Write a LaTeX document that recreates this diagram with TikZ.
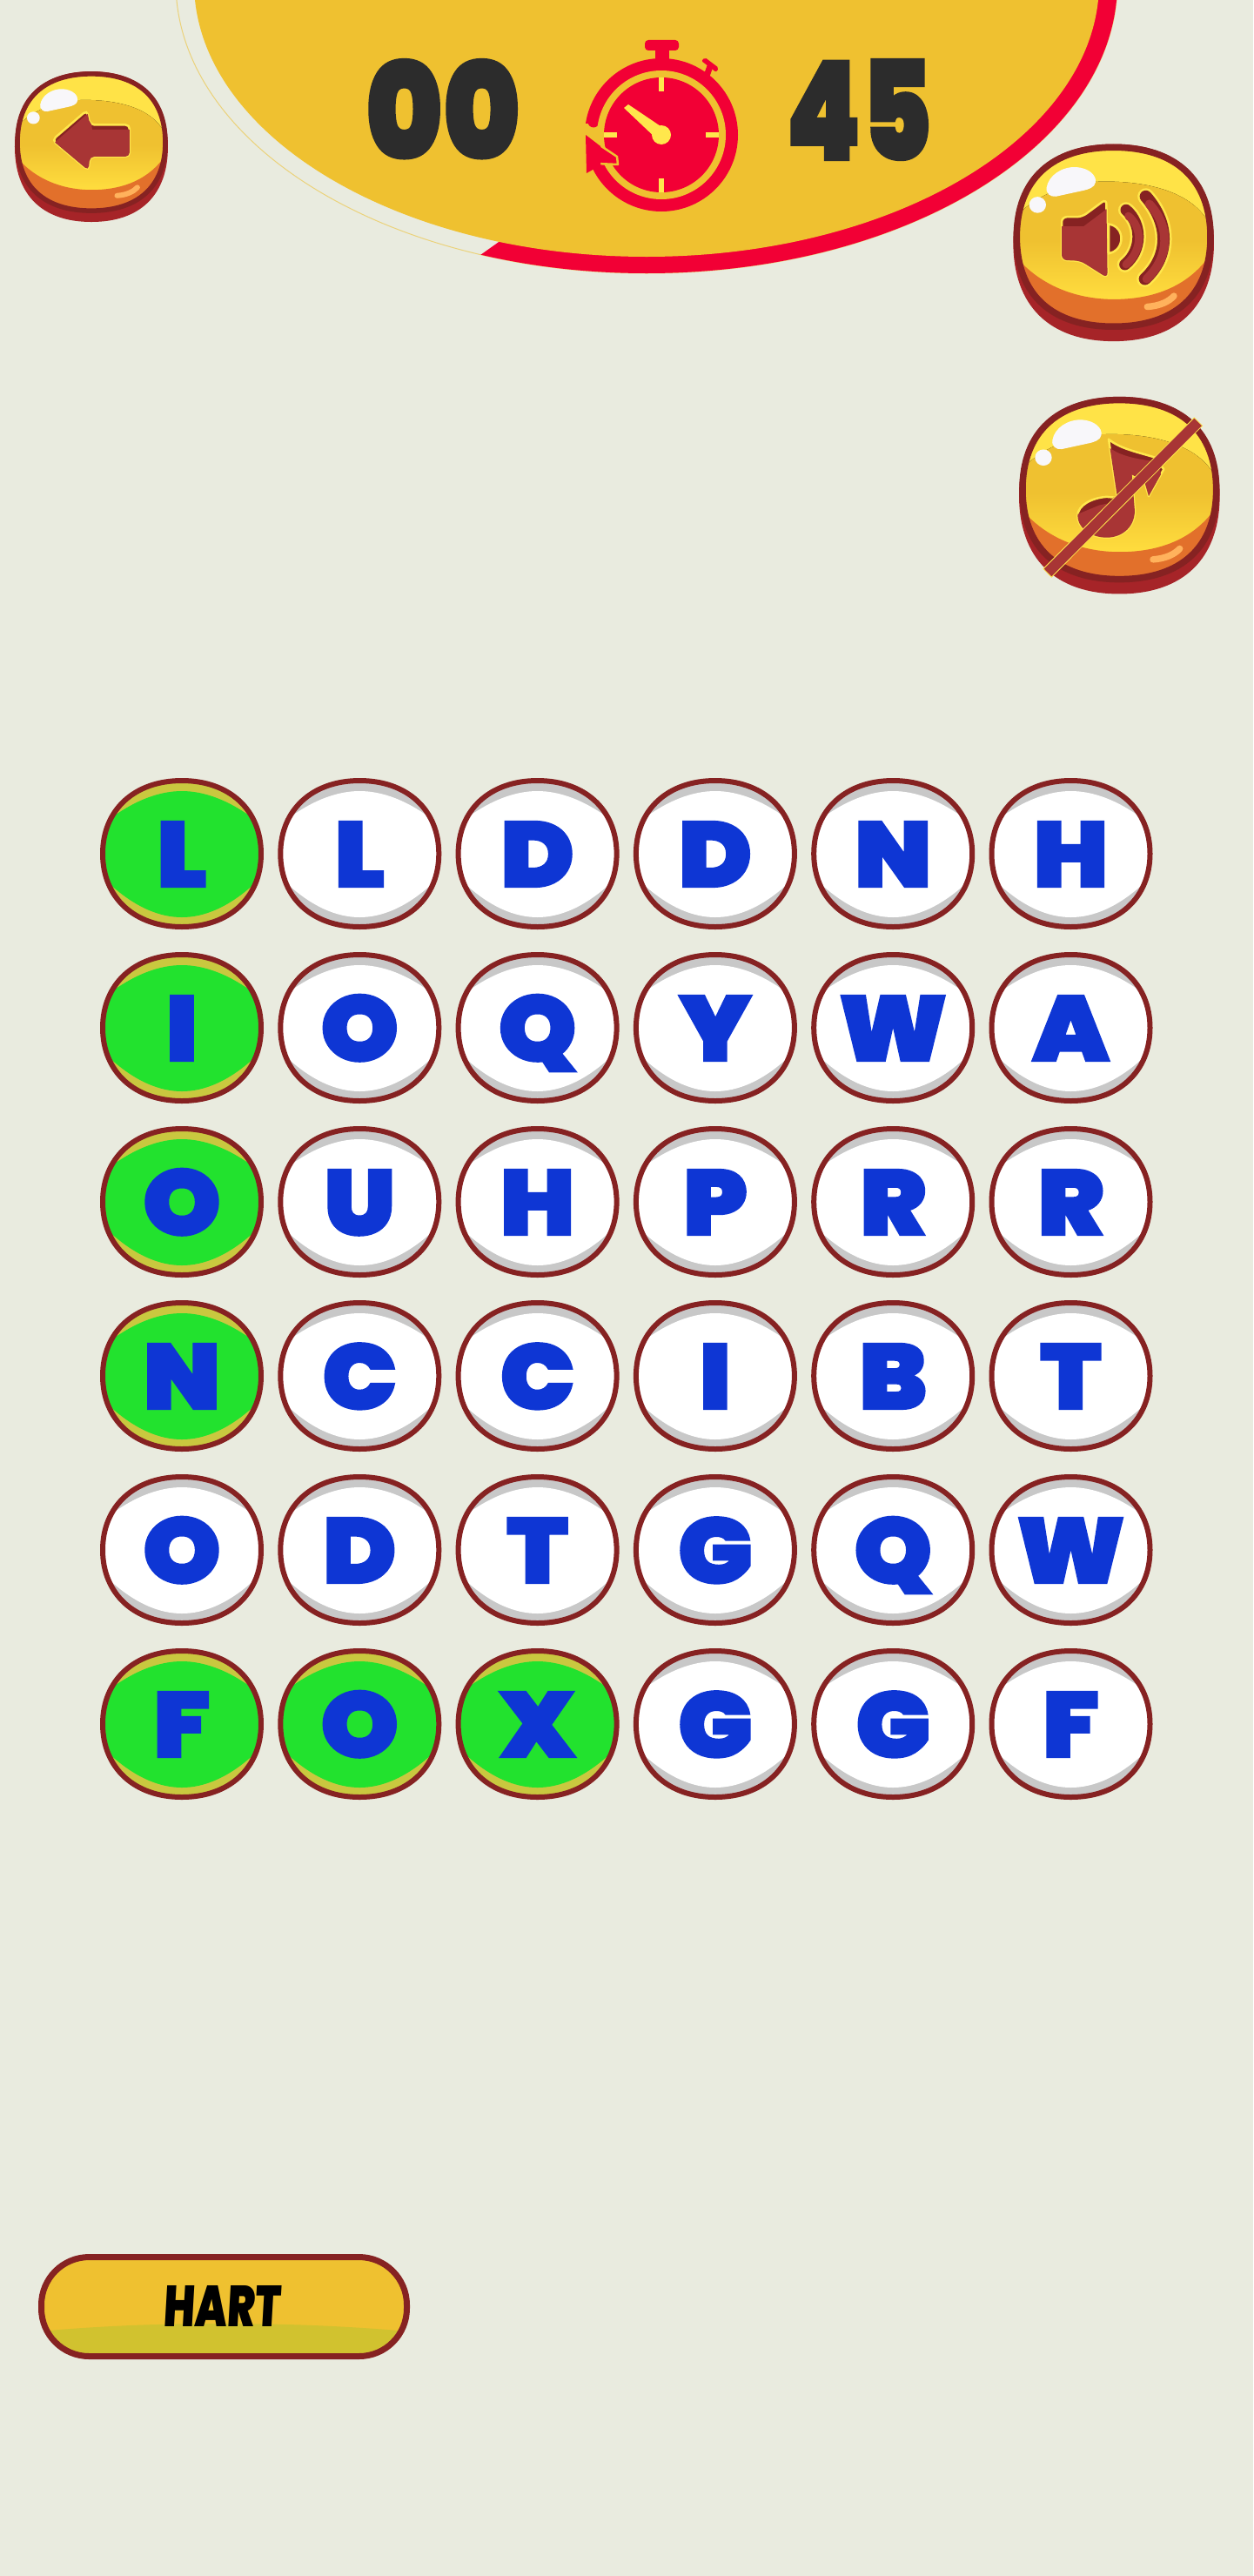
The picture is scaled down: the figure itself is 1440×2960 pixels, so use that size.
\documentclass[tikz,border=0pt]{standalone}
\usepackage{graphicx}
\usepackage{fontspec}
\newfontfamily\fatf{Poppins Black}[FakeBold=2,FakeStretch=1.08]
\newfontfamily\fatd{Poppins Black}[FakeBold=1.5]
\newfontfamily\fats{Poppins Black}[FakeSlant=0.08]
\definecolor{bgc}{HTML}{E9EBDF}
\definecolor{gold}{HTML}{EFC130}
\definecolor{hotred}{HTML}{F20035}
\definecolor{maroon}{HTML}{862222}
\definecolor{shadowred}{HTML}{A62428}
\definecolor{lightyel}{HTML}{FFE347}
\definecolor{midyel}{HTML}{FFDD3E}
\definecolor{orangeb}{HTML}{E2702B}
\definecolor{peach}{HTML}{FFB25C}
\definecolor{snow}{HTML}{F8F7FA}
\definecolor{iconlight}{HTML}{A83535}
\definecolor{icondark}{HTML}{862222}
\definecolor{iconline}{HTML}{FFE74C}
\definecolor{cellgreen}{HTML}{22E22E}
\definecolor{cellolive}{HTML}{C9C83F}
\definecolor{cellgrey}{HTML}{C8C8C8}
\definecolor{letterblue}{HTML}{0E36D4}
\definecolor{ink}{HTML}{2C2C2C}
\definecolor{olive}{HTML}{D1C22F}
\definecolor{thinline}{HTML}{EBD27A}
\tikzset{
  lettertext/.style={anchor=base,inner sep=0pt,text=letterblue,font=\fatf\fontsize{106}{106}\selectfont},
}
% cx cy rx ry k
\newcommand{\blobp}[5]{({#1+#3},{#2}) .. controls ({#1+#3},{#2+#5*#4}) and ({#1+#5*#3},{#2+#4}) .. ({#1},{#2+#4}) .. controls ({#1-#5*#3},{#2+#4}) and ({#1-#3},{#2+#5*#4}) .. ({#1-#3},{#2}) .. controls ({#1-#3},{#2-#5*#4}) and ({#1-#5*#3},{#2-#4}) .. ({#1},{#2-#4}) .. controls ({#1+#5*#3},{#2-#4}) and ({#1+#3},{#2-#5*#4}) .. ({#1+#3},{#2}) -- cycle}
% col row letter fill shadow
\newcommand{\gridcell}[5]{%
  \def\gx{4.7+204.3*#1}\def\gy{781+200*#2}%
  \fill[#5] \blobp{\gx}{\gy}{91}{84}{.6};
  \begin{scope}
    \clip \blobp{\gx}{\gy}{91}{84}{.6};
    \fill[#4] ({\gx-100},{\gy-36}) -- ({\gx-88},{\gy-36}) .. controls ({\gx-55},{\gy-62}) and ({\gx-25},{\gy-72}) .. ({\gx},{\gy-72}) .. controls ({\gx+25},{\gy-72}) and ({\gx+55},{\gy-62}) .. ({\gx+88},{\gy-36}) -- ({\gx+100},{\gy-36}) -- ({\gx+100},{\gy+30}) -- ({\gx+88},{\gy+30}) .. controls ({\gx+55},{\gy+62}) and ({\gx+25},{\gy+73}) .. ({\gx},{\gy+73}) .. controls ({\gx-25},{\gy+73}) and ({\gx-55},{\gy+62}) .. ({\gx-88},{\gy+30}) -- ({\gx-100},{\gy+30}) -- cycle;
  \end{scope}
  \draw[maroon,line width=6pt] \blobp{\gx}{\gy}{91}{84}{.6};
  \node[lettertext] (c#1#2) at ({\gx},{\gy+38}) {#3};
}
\newcommand{\cw}[3]{\gridcell{#1}{#2}{#3}{white}{cellgrey}}
\newcommand{\cg}[3]{\gridcell{#1}{#2}{#3}{cellgreen}{cellolive}}
% #1 outline width, #2 peach width
\newcommand{\gamebtn}[2]{%
  \fill[shadowred] \blobp{449}{374}{346}{329}{.64};
  \begin{scope}
    \clip \blobp{449}{355}{334}{299}{.64};
    \fill[lightyel] (90,30) rectangle (810,700);
    \fill[top color=gold,bottom color=midyel,middle color=gold] (100,290) -- (125,275) .. controls (200,205) and (310,170) .. (420,170) .. controls (580,170) and (720,210) .. (775,305) -- (800,305) -- (800,563) -- (100,563) -- cycle;
    \fill[orangeb] (130,440) .. controls (220,530) and (340,563) .. (450,563) .. controls (570,563) and (690,530) .. (770,430) -- (800,430) -- (800,700) -- (100,700) -- (100,440) -- cycle;
  \end{scope}
  \draw[maroon,line width=#1] \blobp{449}{355}{334}{299}{.64};
  \fill[snow] (218,190) .. controls (225,150) and (270,120) .. (320,122) .. controls (365,125) and (390,150) .. (387,172) .. controls (385,190) and (360,197) .. (345,200) -- (250,220) .. controls (230,222) and (215,210) .. (218,190) -- cycle;
  \fill[snow] (187,248) ellipse [x radius=29,y radius=27];
  \draw[peach,line width=#2,line cap=round] (565,588) .. controls (610,585) and (640,570) .. (657,552);
}
\begin{document}
\begin{tikzpicture}[x=1pt,y=-1pt]
\useasboundingbox (0,0) rectangle (1440,2960);
\fill[bgc] (0,0) rectangle (1440,2960);

% banner
\fill[bgc] (743,-20) ellipse [x radius=541,y radius=334];
\draw[thinline,line width=1pt] (743,-20) ellipse [x radius=541,y radius=334];
\begin{scope}
  \clip (510,323) -- (510,400) -- (1400,400) -- (1400,-100) -- (743,-100) -- (743,157) -- cycle;
  \fill[hotred] (743,-20) ellipse [x radius=541,y radius=334];
\end{scope}
\fill[gold] (743,-20) ellipse [x radius=520,y radius=315];

% stopwatch
\fill[hotred,rounded corners=4pt] (741,46) rectangle (780,58);
\fill[hotred] (753,56) rectangle (769,72);
\fill[hotred,rounded corners=2pt] (806,70) -- (810,66) -- (826,78) -- (823,83) -- cycle;
\fill[hotred] (813,74) -- (819,78) -- (814,92) -- (808,88) -- cycle;
\fill[hotred] (760,155) circle [radius=88];
\fill[gold] (660,142) -- (692,142) -- (692,188) -- (660,202) -- cycle;
\fill[hotred] (682,140) circle [radius=6.5];
\fill[gold] (760,155) circle [radius=74];
\fill[hotred] (760,155) circle [radius=66];
\fill[iconline] (757,89) rectangle (763,105);
\fill[iconline] (757,205) rectangle (763,221);
\fill[iconline] (694,152) rectangle (709,158);
\fill[iconline] (811,152) rectangle (826,158);
\fill[iconline] (717,124) -- (722,120) -- (762,147) -- (755,160) -- cycle;
\fill[iconline] (760,155) circle [radius=11];
\fill[hotred,draw=gold,line width=2.5pt,line join=round] (673,156) -- (709,180) -- (710,189) -- (686,188) -- (674,199) -- cycle;
\fill[hotred] (673,155) -- (690,168) -- (690,190) -- (674,199) -- cycle;

\node[inner sep=0pt,text=ink] (mins) at (509,125.5) {\resizebox{178pt}{115pt}{\fatd 00}};
\node[inner sep=0pt,text=ink] (secs) at (987,126) {\resizebox{168pt}{116pt}{\fatd 45}};

% back button
\begin{scope}[shift={(-9.2,70.2)},x=.2543pt,y=-.2629pt]
  \gamebtn{5.5pt}{6pt}
\end{scope}
\begin{scope}[shift={(0,60)},x=.3333pt,y=-.3333pt]
  \def\arrowp{(180,303) -- (300,200) -- (310,250) -- (447,250) -- (447,360) -- (310,360) -- (305,408) -- cycle}
  \draw[iconline,fill=icondark,line width=2.5pt,rounded corners=5pt] \arrowp;
  \begin{scope}
    \clip[rounded corners=5pt] \arrowp;
    \fill[iconlight,shift={(8,17)}] (170,303) -- (300,190) -- (310,250) -- (460,250) -- (460,380) -- (310,380) -- (305,420) -- cycle;
  \end{scope}
\end{scope}

% sound button
\begin{scope}[shift={(1130,150)},x=.3333pt,y=-.3444pt]
  \gamebtn{7.5pt}{7.5pt}
  \def\spk{(270,288) -- (340,288) -- (424,228) -- (428,492) -- (335,435) -- (270,432) -- cycle}
  \draw[iconline,fill=icondark,line width=2.5pt,rounded corners=6pt] \spk;
  \begin{scope}
    \clip[rounded corners=6pt] \spk;
    \fill[iconlight] (260,320) -- (345,320) -- (435,255) -- (435,500) -- (260,500) -- cycle;
  \end{scope}
  \draw[iconline,fill=icondark,line width=2.5pt] (432,312) .. controls (490,320) and (490,400) .. (432,410) -- cycle;
  \def\wa{(492,265) .. controls (548,310) and (548,400) .. (488,447)}
  \def\wb{(560,220) .. controls (642,310) and (642,420) .. (557,495)}
  \draw[iconline,line width=18pt,line cap=round] \wa;
  \draw[icondark,line width=13pt,line cap=round] \wa;
  \draw[iconlight,line width=9pt,line cap=round] (500,285) .. controls (550,325) and (548,400) .. (492,447);
  \draw[iconline,line width=19pt,line cap=round] \wb;
  \draw[icondark,line width=14pt,line cap=round] \wb;
  \draw[iconlight,line width=10pt,line cap=round] (572,245) .. controls (644,320) and (644,420) .. (563,495);
\end{scope}

% music button
\begin{scope}[shift={(1130,150)},x=.3333pt,y=-.3444pt]
  \begin{scope}[shift={(20,843)}]
    \gamebtn{7.5pt}{7.5pt}
  \end{scope}
  \def\note{(432,1030) .. controls (470,1060) and (520,1070) .. (590,1090) -- (622,1130) -- (570,1220) -- (555,1170) -- (512,1148) -- (522,1270) .. controls (520,1330) and (470,1360) .. (420,1358) .. controls (360,1355) and (325,1320) .. (325,1285) .. controls (325,1250) and (375,1225) .. (425,1222) -- (462,1225) -- cycle}
  \draw[iconline,fill=icondark,line width=2.5pt,line join=round] \note;
  \begin{scope}
    \clip \note;
    \fill[iconlight] (430,1055) .. controls (470,1085) and (520,1095) .. (600,1105) -- (640,1240) -- (640,1400) -- (300,1400) -- (300,1290) -- (400,1250) -- (450,1240) -- cycle;
  \end{scope}
  \draw[iconline,fill=iconlight,line width=.8pt] (727,958) -- (755,985) -- (235,1490) -- (207,1462) -- cycle;
\end{scope}

% grid
\cg{1}{1}{L}\cw{2}{1}{L}\cw{3}{1}{D}\cw{4}{1}{D}\cw{5}{1}{N}\cw{6}{1}{H}
\cg{1}{2}{I}\cw{2}{2}{O}\cw{3}{2}{Q}\cw{4}{2}{Y}\cw{5}{2}{W}\cw{6}{2}{A}
\cg{1}{3}{O}\cw{2}{3}{U}\cw{3}{3}{H}\cw{4}{3}{P}\cw{5}{3}{R}\cw{6}{3}{R}
\cg{1}{4}{N}\cw{2}{4}{C}\cw{3}{4}{C}\cw{4}{4}{I}\cw{5}{4}{B}\cw{6}{4}{T}
\cw{1}{5}{O}\cw{2}{5}{D}\cw{3}{5}{T}\cw{4}{5}{G}\cw{5}{5}{Q}\cw{6}{5}{W}
\cg{1}{6}{F}\cg{2}{6}{O}\cg{3}{6}{X}\cw{4}{6}{G}\cw{5}{6}{G}\cw{6}{6}{F}

% hint button
\begin{scope}
  \clip[rounded corners=55pt] (47.5,2593.5) rectangle (467.5,2707.5);
  \fill[gold] (40,2590) rectangle (480,2715);
  \fill[olive] (45,2679) .. controls (120,2672) and (190,2670) .. (255,2670) .. controls (320,2670) and (390,2672) .. (470,2679) -- (470,2715) -- (45,2715) -- cycle;
\end{scope}
\draw[maroon,line width=7pt,rounded corners=55pt] (47.5,2593.5) rectangle (467.5,2707.5);
\node[inner sep=0pt,text=black] (hart) at (255,2650) {\resizebox{134pt}{47pt}{\fats HART}};
\end{tikzpicture}
\end{document}
